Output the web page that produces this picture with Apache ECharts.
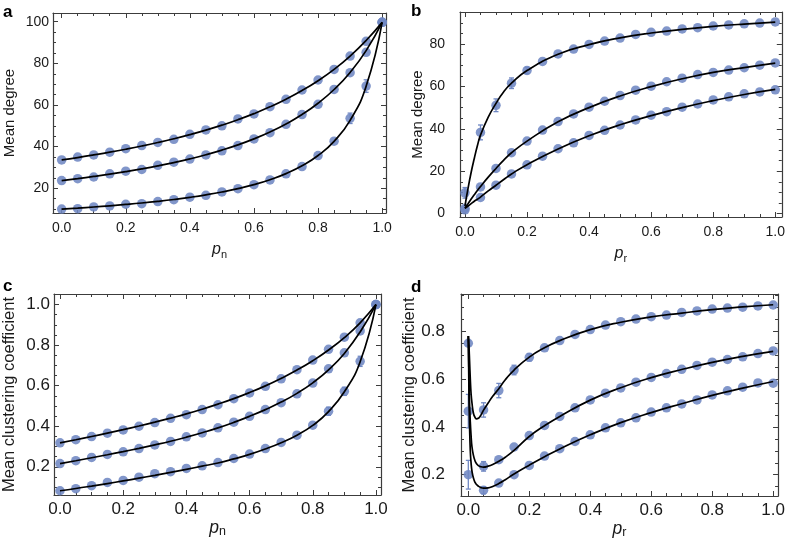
<!DOCTYPE html>
<html><head><meta charset="utf-8">
<script src="https://cdn.jsdelivr.net/npm/echarts@6/dist/echarts.min.js"></script>
<style>html,body{margin:0;padding:0;background:#fff}#c{width:788px;height:543px}</style>
</head><body><div id="c"></div>
<script>
// ---------- data ----------
const pX = [0,0.05,0.1,0.15,0.2,0.25,0.3,0.35,0.4,0.45,0.5,0.55,0.6,0.65,0.7,0.75,0.8,0.85,0.9,0.95,1.0];

// panel a: mean degree vs p_n (simulation points)
const aHigh = [33.6,35,36,37.3,39,40.5,42,43.5,45.9,48,50,53.3,55.7,59.2,62.7,67.2,72,77.1,83.5,90.6,99.7];
const aMid  = [23.7,24.6,25.4,26.9,28.2,29,31,32.5,34,36,38,40.5,43.7,46.7,50.7,55.4,60.3,67.5,75.5,85.3,99.7];
const aLow  = [10,10.2,11,11.5,12.3,12.6,13.6,14.5,15.7,16.6,18.2,19.8,21.7,24,26.9,30.4,35.7,42.6,53.6,69.1,99.7];
const aLowErr = [0,0,0,0,0,0,0,0,0,0,0,0,0,0,0,0,0,0,2.5,3,0];
const aHighCurve = [33.6,34.75,36.0,37.32,38.75,40.29,41.96,43.77,45.75,47.92,50.3,52.93,55.85,59.11,62.78,66.93,71.67,77.13,83.5,91.0,99.7];
const aMidCurve  = [23.7,24.64,25.66,26.76,27.97,29.29,30.74,32.34,34.11,36.09,38.32,40.84,43.71,47.02,50.87,55.41,60.83,67.44,75.65,86.13,99.7];
const aLowCurve  = [10.0,10.47,10.99,11.56,12.2,12.9,13.7,14.6,15.63,16.81,18.18,19.8,21.74,24.1,27.03,30.77,35.71,42.55,52.63,68.97,99.7];

// panel b: mean degree vs p_r
const bHigh = [9.8,38.3,51.1,61.5,67.5,71.8,75.3,77.6,79.8,81.4,82.8,84.5,85.5,86.1,87.1,87.7,88.5,89,89.5,89.9,90.4];
const bMid  = [2.5,12.6,21.3,28.7,34.2,39.4,43.4,47,50.2,53,55.7,58.2,60.1,62.2,63.9,65.6,66.6,67.7,68.8,70,71.1];
const bLow  = [1.8,7.6,13.4,18.7,23,27.1,30.6,33.4,36.9,39.3,41.8,44.2,46.4,48.1,50.2,51.7,53.6,55.1,56.5,57.4,58.4];
const bHighErr = [2.5,3.5,3,2.5,1.5,0,0,0,0,0,0,0,0,0,0,0,0,0,0,0,0];
const rCurveX    = [0,0.01,0.02,0.03,0.04,0.05,0.075,0.1,0.125,0.15,0.2,0.3,0.4,0.5,0.6,0.7,0.8,0.9,1.0];
const bHighCurve = [3.5,12,19.5,26,32,37,45.5,52,57.5,61.5,67.5,75.2,79.7,82.9,85.2,86.9,88.3,89.4,90.3];
const bMidCurve  = [2.5,4.7,6.9,8.9,10.9,12.8,17.2,21.3,25.2,28.7,34.2,43.3,50.0,55.5,59.9,63.6,66.6,68.9,71.0];
const bLowCurve  = [2.5,3.6,4.7,5.8,6.8,7.8,10.7,13.4,16.1,18.7,23.1,30.5,36.7,41.9,46.2,50.0,53.3,56.2,58.6];

// panel c: mean clustering coefficient vs p_n
const cHigh = [0.318,0.334,0.349,0.366,0.382,0.4,0.418,0.439,0.457,0.482,0.506,0.536,0.564,0.597,0.634,0.679,0.726,0.779,0.839,0.91,1.0];
const cMid  = [0.216,0.23,0.246,0.261,0.274,0.29,0.308,0.325,0.348,0.367,0.392,0.42,0.449,0.482,0.516,0.56,0.613,0.683,0.762,0.87,1.0];
const cLow  = [0.082,0.092,0.107,0.123,0.133,0.149,0.166,0.176,0.192,0.205,0.221,0.241,0.263,0.29,0.32,0.356,0.405,0.474,0.572,0.72,1.0];
const cLowErr = [0,0,0,0,0,0,0,0,0,0,0,0,0,0,0,0,0,0.02,0.02,0.025,0];
const cHighCurve = [0.318,0.3335,0.3495,0.366,0.383,0.401,0.42,0.44,0.461,0.484,0.509,0.536,0.566,0.599,0.636,0.677,0.723,0.776,0.837,0.91,1.0];
const cMidCurve  = [0.216,0.23,0.2445,0.2595,0.275,0.291,0.308,0.326,0.346,0.368,0.392,0.419,0.449,0.482,0.519,0.562,0.614,0.678,0.759,0.865,1.0];
const cLowCurve  = [0.082,0.093,0.105,0.1175,0.1305,0.144,0.158,0.1725,0.1875,0.203,0.219,0.239,0.261,0.288,0.319,0.356,0.404,0.472,0.57,0.718,1.0];

// panel d: mean clustering coefficient vs p_r
const dHigh = [0.75,0.471,0.552,0.638,0.691,0.731,0.761,0.787,0.807,0.826,0.84,0.851,0.861,0.868,0.879,0.885,0.893,0.897,0.901,0.906,0.91];
const dMid  = [0.466,0.235,0.263,0.316,0.364,0.406,0.444,0.48,0.513,0.541,0.563,0.587,0.607,0.623,0.641,0.657,0.671,0.682,0.693,0.707,0.718];
const dLow  = [0.2,0.135,0.165,0.2,0.239,0.278,0.309,0.339,0.367,0.396,0.417,0.438,0.462,0.48,0.496,0.513,0.534,0.551,0.566,0.584,0.583];
const dHighErr = [0.01,0.03,0.03,0.02,0.015,0,0,0,0,0,0,0,0,0,0,0,0,0,0,0,0];
const dMidErr  = [0.07,0.02,0,0,0,0,0,0,0,0,0,0,0,0,0,0,0,0,0,0,0];
const dLowErr  = [0.06,0.015,0,0,0,0,0,0,0,0,0,0,0,0,0,0,0,0,0,0,0];
const dCurveX    = [0,0.002,0.004,0.0065,0.009,0.012,0.017,0.022,0.026,0.033,0.04,0.05,0.065,0.08,0.1,0.12,0.15,0.2,0.25,0.3,0.4,0.5,0.6,0.7,0.8,0.9,1.0];
const dHighCurve = [0.78,0.74,0.68,0.6,0.54,0.5,0.456,0.44,0.434,0.436,0.447,0.47,0.5,0.528,0.56,0.595,0.638,0.692,0.731,0.761,0.807,0.838,0.86,0.876,0.891,0.902,0.911];
const dMidCurve  = [0.78,0.62,0.5,0.42,0.365,0.317,0.28,0.258,0.248,0.238,0.234,0.232,0.236,0.243,0.256,0.272,0.302,0.36,0.405,0.444,0.512,0.564,0.606,0.64,0.67,0.695,0.716];
const dLowCurve  = [0.78,0.55,0.41,0.3,0.25,0.215,0.185,0.168,0.16,0.152,0.147,0.144,0.145,0.151,0.163,0.178,0.203,0.24,0.275,0.308,0.367,0.418,0.46,0.497,0.532,0.562,0.59];

const yNameDegree = 'Mean degree';
const yNameClust = 'Mean clustering coefficient';

// ---------- helpers ----------
const FONT = "'Liberation Sans', Arial, Helvetica, sans-serif";
const FRAME = '#3c3c3c';
const DOT = '#7088c3';
const TXT = '#1a1a1a';

function pairs(xs, ys){ return xs.map((x,i)=>[x, ys[i]]); }
function triples(xs, ys, es){ return xs.map((x,i)=>[x, ys[i], es ? es[i] : 0]); }

const panels = [
  {grid:{left:53, top:13, width:333, height:200}, x:[-0.027,1.012], y:[8.1,104.2], yMaj:20, yMin:5,
   fs:14, nfs:15, yDec:0, yName:yNameDegree, sub:'n', xLabMargin:8, yLabMargin:4, xNameGap:27, yNameGap:36,
   pts:[aHigh,aMid,aLow], errs:[null,null,aLowErr],
   curves:[pairs(pX,aHighCurve),pairs(pX,aMidCurve),pairs(pX,aLowCurve)]},
  {grid:{left:460, top:12, width:324, height:205}, x:[-0.016,1.021], y:[-1.6,95.1], yMaj:20, yMin:5,
   fs:14, nfs:15, yDec:0, yName:yNameDegree, sub:'r', xLabMargin:8, yLabMargin:15, xNameGap:27, yNameGap:31,
   pts:[bHigh,bMid,bLow], errs:[bHighErr,null,null],
   curves:[pairs(rCurveX,bHighCurve),pairs(rCurveX,bMidCurve),pairs(rCurveX,bLowCurve)]},
  {grid:{left:53, top:294, width:328, height:201}, x:[-0.019,1.016], y:[0.061,1.052], yMaj:0.2, yMin:0.05,
   fs:17, nfs:16.5, yDec:1, yName:yNameClust, sub:'n', xLabMargin:6, yLabMargin:4, xNameGap:20, yNameGap:36,
   pts:[cHigh,cMid,cLow], errs:[null,null,cLowErr],
   curves:[pairs(pX,cHighCurve),pairs(pX,cMidCurve),pairs(pX,cLowCurve)]},
  {grid:{left:461, top:294, width:322, height:202}, x:[-0.024,1.016], y:[0.111,0.956], yMaj:0.2, yMin:0.05,
   fs:17, nfs:16.5, yDec:1, yName:yNameClust, sub:'r', xLabMargin:6, yLabMargin:16, xNameGap:20, yNameGap:34,
   pts:[dHigh,dMid,dLow], errs:[dHighErr,dMidErr,dLowErr],
   curves:[pairs(dCurveX,dHighCurve),pairs(dCurveX,dMidCurve),pairs(dCurveX,dLowCurve)]}
];

const grids = [], xAxes = [], yAxes = [], series = [], titles = [];
const letters = ['a','b','c','d'];
const letterPos = [[3,4],[411,3],[3,278],[411,279]];

panels.forEach((P, g) => {
  grids.push(Object.assign({containLabel:false}, P.grid));
  const tick = (len) => ({show: true, inside: true, length: len, lineStyle:{color:FRAME, width:1}});
  const line = (show) => ({show: show, onZero:false, lineStyle:{color:FRAME, width:1.2}});
  const xBase = {type:'value', gridIndex:g, min:P.x[0], max:P.x[1], splitLine:{show:false}};
  xAxes.push(Object.assign({}, xBase, {
    position:'bottom', minInterval:0.2, maxInterval:0.2, splitNumber:5,
    axisLine:line(true), axisTick:tick(5),
    axisLabel:{show:true, margin:P.xLabMargin, color:TXT, fontSize:P.fs, fontFamily:FONT,
      showMinLabel:false, showMaxLabel:false, formatter:(v)=>v.toFixed(1)},
    name:'{p|p}{s|' + P.sub + '}', nameLocation:'middle', nameGap:P.xNameGap,
    nameTextStyle:{rich:{
      p:{fontStyle:'italic', fontSize:P.nfs+1, fontFamily:FONT, color:TXT, lineHeight:20},
      s:{fontSize:P.nfs-4, fontFamily:FONT, color:TXT, verticalAlign:'bottom', lineHeight:11}}}
  }));
  xAxes.push(Object.assign({}, xBase, {position:'bottom', minInterval:0.05, maxInterval:0.05, splitNumber:21,
    axisLine:line(false), axisTick:tick(3), axisLabel:{show:false}}));
  xAxes.push(Object.assign({}, xBase, {position:'top', minInterval:0.2, maxInterval:0.2, splitNumber:5,
    axisLine:line(true), axisTick:tick(5), axisLabel:{show:false}}));
  xAxes.push(Object.assign({}, xBase, {position:'top', minInterval:0.05, maxInterval:0.05, splitNumber:21,
    axisLine:line(false), axisTick:tick(3), axisLabel:{show:false}}));
  const yBase = {type:'value', gridIndex:g, min:P.y[0], max:P.y[1], splitLine:{show:false}};
  yAxes.push(Object.assign({}, yBase, {
    position:'left', minInterval:P.yMaj, maxInterval:P.yMaj, splitNumber:5,
    axisLine:line(true), axisTick:tick(5),
    axisLabel:{show:true, margin:P.yLabMargin, color:TXT, fontSize:P.fs, fontFamily:FONT,
      showMinLabel:false, showMaxLabel:false, formatter:(v)=>v.toFixed(P.yDec)},
    name:P.yName, nameLocation:'middle', nameGap:P.yNameGap,
    nameTextStyle:{fontSize:P.nfs, fontFamily:FONT, color:TXT}
  }));
  yAxes.push(Object.assign({}, yBase, {position:'left', minInterval:P.yMin, maxInterval:P.yMin, splitNumber:20,
    axisLine:line(false), axisTick:tick(3), axisLabel:{show:false}}));
  yAxes.push(Object.assign({}, yBase, {position:'right', minInterval:P.yMaj, maxInterval:P.yMaj, splitNumber:5,
    axisLine:line(true), axisTick:tick(5), axisLabel:{show:false}}));
  yAxes.push(Object.assign({}, yBase, {position:'right', minInterval:P.yMin, maxInterval:P.yMin, splitNumber:20,
    axisLine:line(false), axisTick:tick(3), axisLabel:{show:false}}));

  const xi = 4*g, yi = 4*g;
  P.pts.forEach((ys, k) => {
    series.push({type:'scatter', xAxisIndex:xi, yAxisIndex:yi, data:pairs(pX, ys),
      symbol:'circle', symbolSize:9.5, itemStyle:{color:DOT, opacity:0.88}, z:2, silent:true});
    if (P.errs[k]) {
      series.push({type:'custom', xAxisIndex:xi, yAxisIndex:yi, data:triples(pX, ys, P.errs[k]),
        encode:{x:0, y:1}, z:3, silent:true,
        renderItem:function(params, api){
          const e = api.value(2); if (!e) return null;
          const x = api.value(0), y = api.value(1);
          const p1 = api.coord([x, y+e]), p2 = api.coord([x, y-e]);
          const c = 2.5, st = {stroke:DOT, lineWidth:1.3};
          return {type:'group', children:[
            {type:'line', shape:{x1:p1[0], y1:p1[1], x2:p2[0], y2:p2[1]}, style:st},
            {type:'line', shape:{x1:p1[0]-c, y1:p1[1], x2:p1[0]+c, y2:p1[1]}, style:st},
            {type:'line', shape:{x1:p2[0]-c, y1:p2[1], x2:p2[0]+c, y2:p2[1]}, style:st}
          ]};
        }});
    }
  });
  P.curves.forEach((cv) => {
    series.push({type:'line', xAxisIndex:xi, yAxisIndex:yi, data:cv, showSymbol:false, symbol:'none',
      smooth:0.5, lineStyle:{color:'#000', width:1.7}, z:5, silent:true, clip:true});
  });
  titles.push({text:letters[g], left:letterPos[g][0], top:letterPos[g][1], padding:0,
    textStyle:{fontSize:17, fontWeight:'bold', fontFamily:FONT, color:'#000'}});
});

const chart = echarts.init(document.getElementById('c'), null, {renderer:'canvas'});
chart.setOption({
  animation:false, backgroundColor:'#fff',
  title:titles, grid:grids, xAxis:xAxes, yAxis:yAxes, series:series
});
</script></body></html>
